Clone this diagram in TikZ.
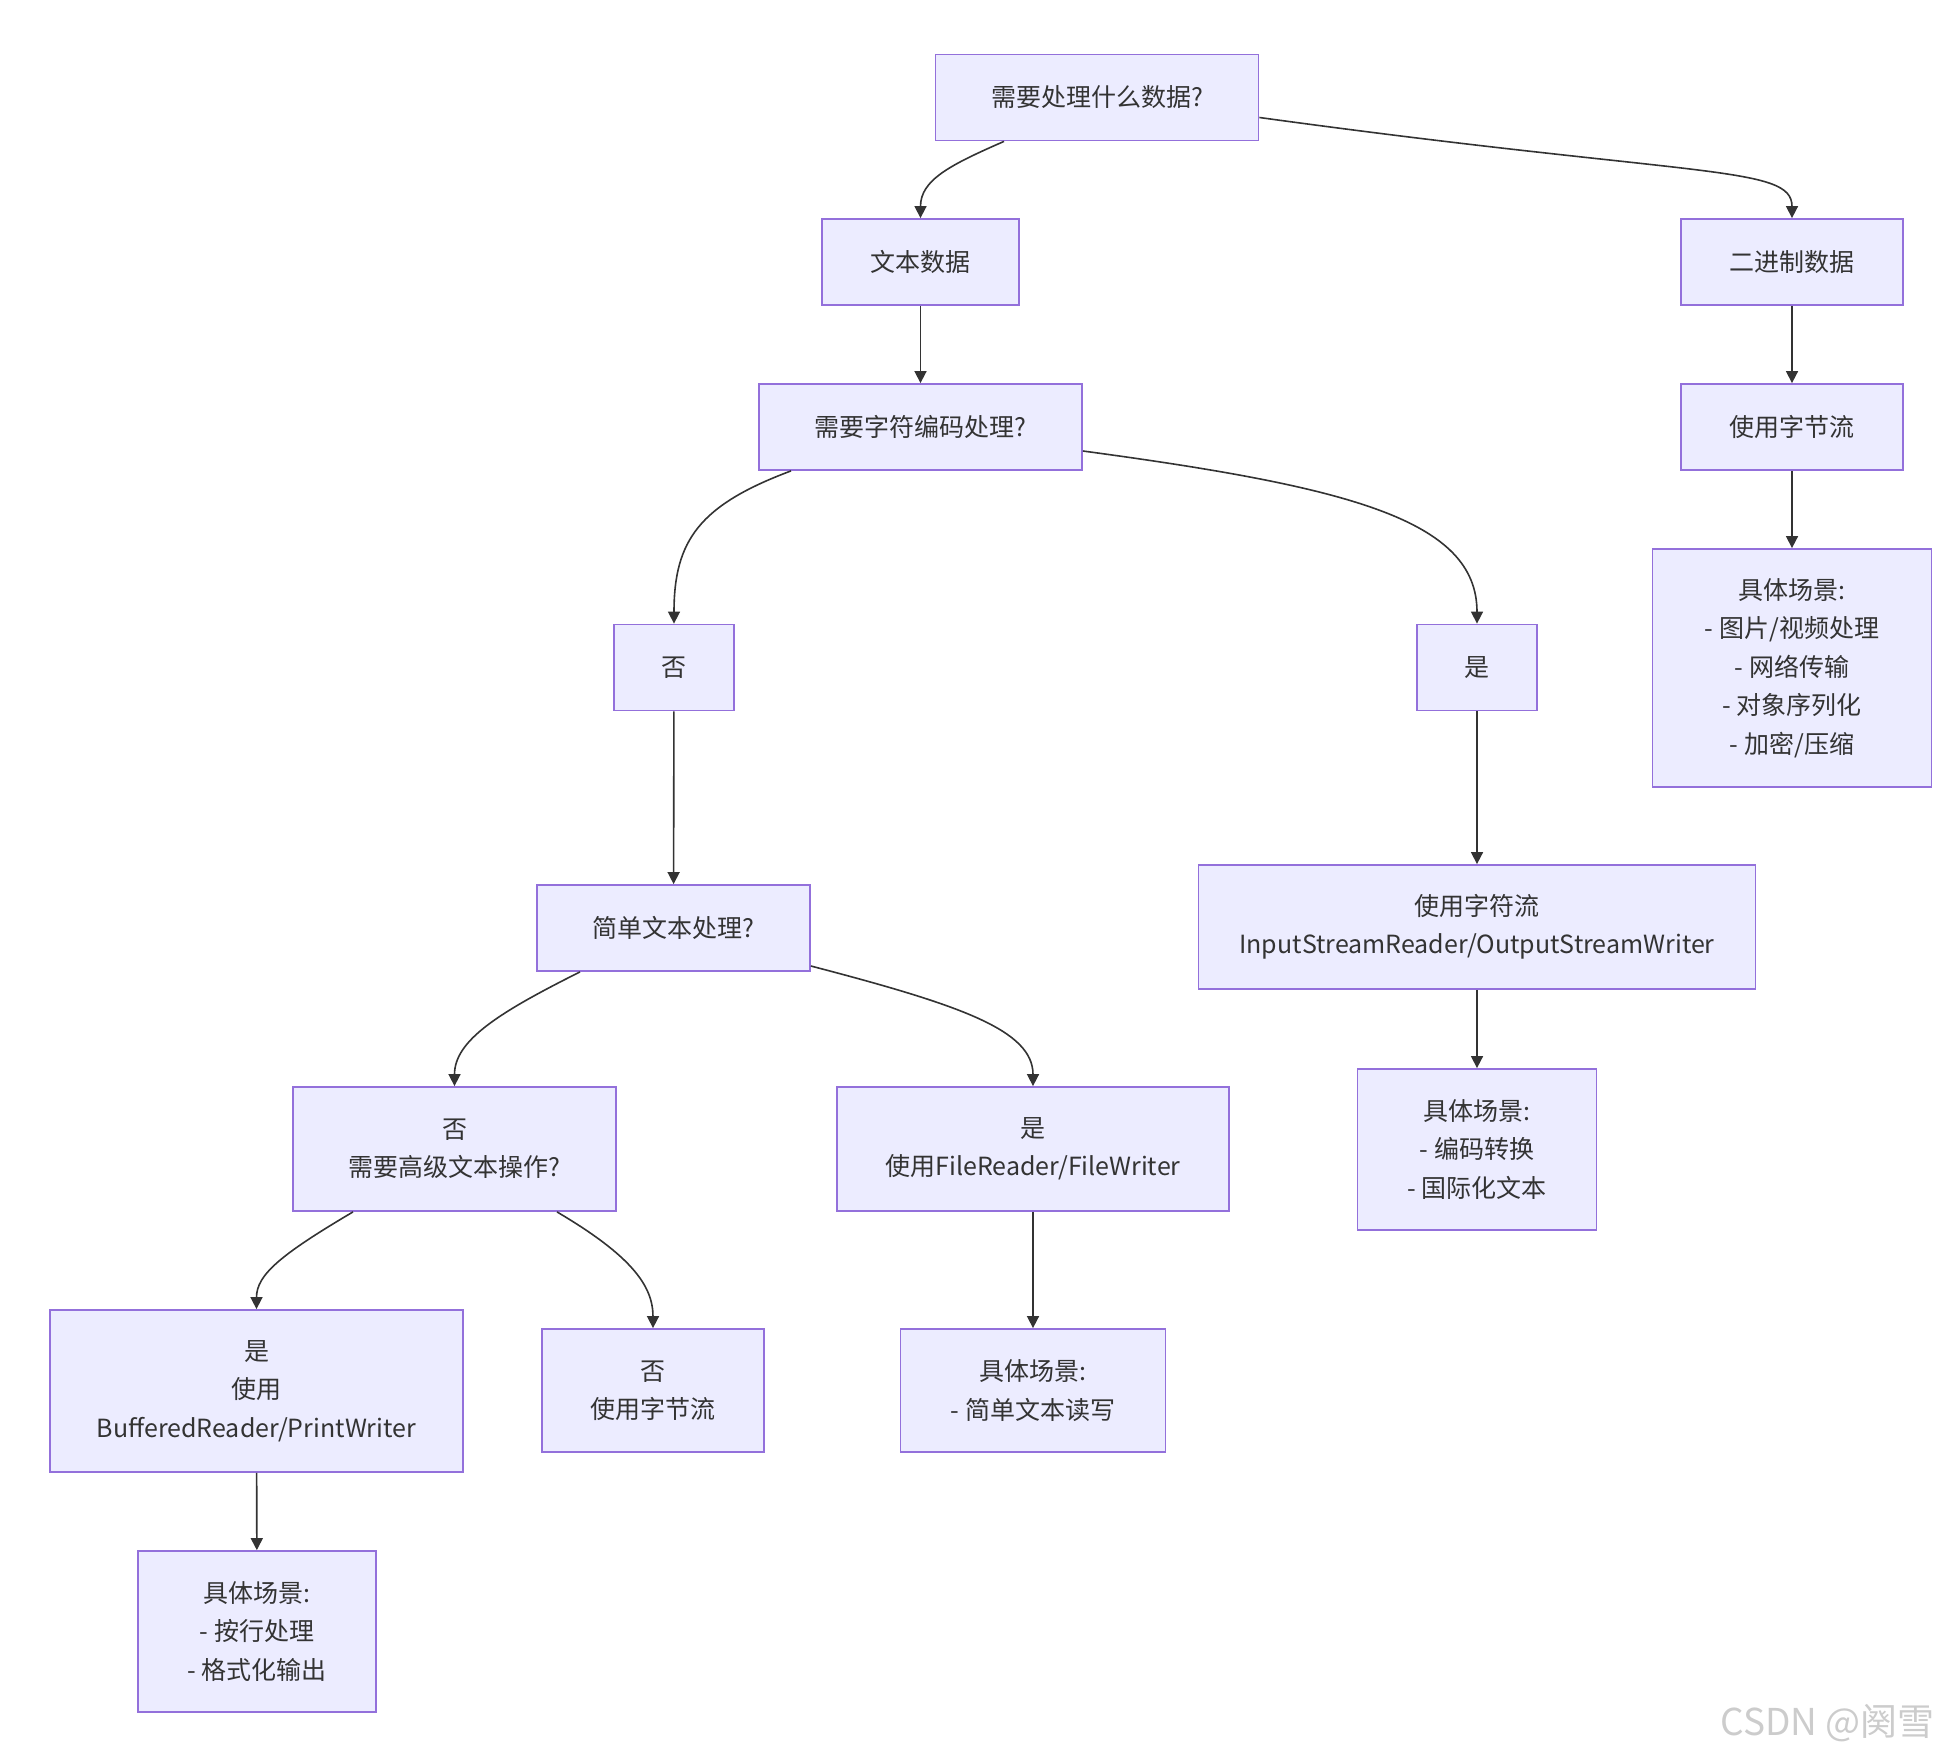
\documentclass[tikz,border=0pt]{standalone}
\usepackage{fontspec}
\setmainfont{Noto Sans CJK SC}
\usetikzlibrary{arrows.meta}
\definecolor{boxfill}{HTML}{ECECFF}
\definecolor{boxline}{HTML}{9370DB}
\definecolor{ink}{HTML}{333333}
\begin{document}
\begin{tikzpicture}[x=0.5pt,y=-0.5pt,
    box/.style={draw=boxline,fill=boxfill,line width=0.9pt,text=ink,align=center,
      inner sep=0pt,font=\fontsize{12.5}{19.2}\selectfont},
    arr/.style={draw=ink,line width=0.8pt,-{Triangle[length=6pt,width=6pt]}}]
  \useasboundingbox (0,0) rectangle (1944,1756);
  % top part
  \node[box,minimum width=161.5pt,minimum height=43pt](Q) at (1097,97.5) {需要处理什么数据?};
  \node[box,minimum width=98.5pt,minimum height=43pt](txt) at (920.5,262) {文本数据};
  \node[box,minimum width=111pt,minimum height=43pt](bin) at (1792,262) {二进制数据};
  \node[box,minimum width=161.5pt,minimum height=43pt](enc) at (920.5,427) {需要字符编码处理?};
  \node[box,minimum width=111pt,minimum height=43pt](byte) at (1792,427) {使用字节流};
  \node[box,minimum width=139.5pt,minimum height=119pt](binuse) at (1792,668)
    {具体场景:\\- 图片/视频处理\\- 网络传输\\- 对象序列化\\- 加密/压缩};
  % text branch
  \node[box,minimum width=60pt,minimum height=43pt](no1) at (674,667.5) {否};
  \node[box,minimum width=60pt,minimum height=43pt](yes1) at (1477,667.5) {是};
  \node[box,minimum width=136.5pt,minimum height=43pt](simple) at (673.5,928) {简单文本处理?};
  \node[box,minimum width=278.5pt,minimum height=62pt](chr) at (1477,927)
    {使用字符流\\InputStreamReader/OutputStreamWriter};
  \node[box,minimum width=119.5pt,minimum height=80.5pt](chruse) at (1477,1149.5)
    {具体场景:\\- 编码转换\\- 国际化文本};
  \node[box,minimum width=161.5pt,minimum height=62pt](adv) at (454.5,1149) {否\\需要高级文本操作?};
  \node[box,minimum width=196pt,minimum height=62pt](file) at (1033,1149) {是\\使用FileReader/FileWriter};
  \node[box,minimum width=206.5pt,minimum height=81pt](buf) at (256.5,1391)
    {是\\使用\\BufferedReader/PrintWriter};
  \node[box,minimum width=111pt,minimum height=61.5pt](no2) at (653,1390.5) {否\\使用字节流};
  \node[box,minimum width=132.5pt,minimum height=61.5pt](fileuse) at (1033,1390.5)
    {具体场景:\\- 简单文本读写};
  \node[box,minimum width=119pt,minimum height=80.5pt](bufuse) at (257,1631.5)
    {具体场景:\\- 按行处理\\- 格式化输出};
  \node[text=gray!40,anchor=east,font=\fontsize{18.5}{18.5}\selectfont](wm) at (1942,1723) {CSDN @阕雪};
  % connectors
  \draw[arr] ([xshift=-46.5pt]Q.south) .. controls (950,165) and (920.5,180) .. (txt);
  \draw[arr] ([yshift=-10pt]Q.east) .. controls (1700,178) and (1792,165) .. (bin);
  \draw[arr] (txt) -- (enc);
  \draw[arr] (bin) -- (byte);
  \draw[arr] (byte) -- (binuse);
  \draw[arr] ([xshift=-64.75pt]enc.south) .. controls (700,505) and (674,540) .. (no1);
  \draw[arr] ([yshift=-12pt]enc.east) .. controls (1350,487) and (1477,520) .. (yes1);
  \draw[arr] (no1) -- (simple);
  \draw[arr] (yes1) -- (chr);
  \draw[arr] (chr) -- (chruse);
  \draw[arr] ([xshift=-46.75pt]simple.south) .. controls (500,1012) and (454.5,1040) .. (adv);
  \draw[arr] ([yshift=-19pt]simple.east) .. controls (960,1005) and (1033,1030) .. (file);
  \draw[arr] (file) -- (fileuse);
  \draw[arr] ([xshift=-50.75pt]adv.south) .. controls (280,1255) and (256.5,1275) .. (buf);
  \draw[arr] ([xshift=51.25pt]adv.south) .. controls (630,1255) and (653,1285) .. (no2);
  \draw[arr] (buf) -- (bufuse);
\end{tikzpicture}
\end{document}
